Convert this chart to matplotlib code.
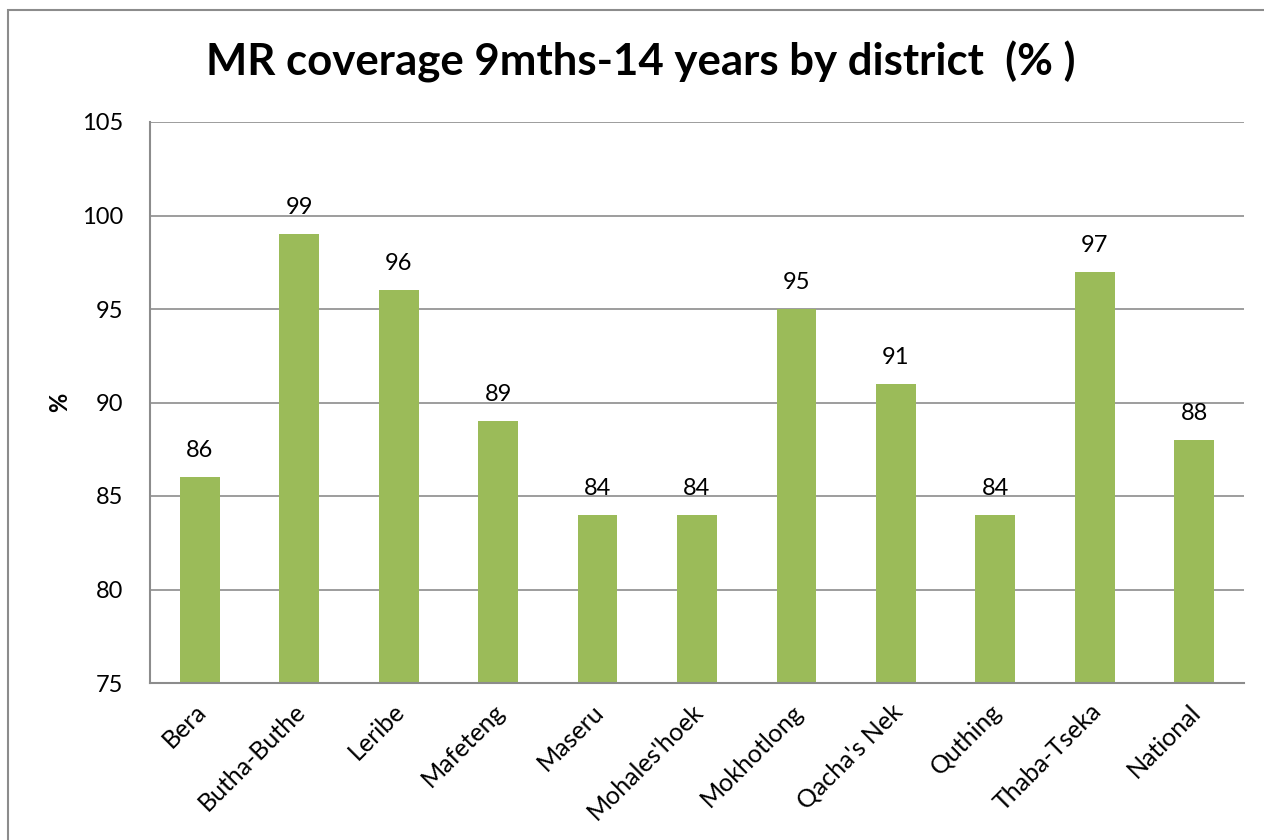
import matplotlib
matplotlib.use("Agg")
import matplotlib.pyplot as plt
from matplotlib.patches import Rectangle
from matplotlib.transforms import ScaledTranslation

districts = ["Bera", "Butha-Buthe", "Leribe", "Mafeteng", "Maseru", "Mohales'hoek",
             "Mokhotlong", "Qacha's Nek", "Quthing", "Thaba-Tseka", "National"]
coverage = [86, 99, 96, 89, 84, 84, 95, 91, 84, 97, 88]
y_ticks = [75, 80, 85, 90, 95, 100, 105]

plt.rcParams['font.family'] = ['Lato', 'DejaVu Sans']

fig = plt.figure(figsize=(12.64, 8.4), dpi=100)
ax = fig.add_axes([150 / 1264, 1 - 683 / 840, 1094 / 1264, 561 / 840])

# outer chart frame
fig.patches.append(Rectangle((8 / 1264, -0.2), 1.5, 1.2 - 10 / 840,
                             transform=fig.transFigure, fill=False,
                             edgecolor="#8c8c8c", linewidth=1.5))

x = range(len(districts))
ax.bar(x, coverage, width=0.4, color="#9BBB59", zorder=2)
for i, v in enumerate(coverage):
    ax.text(i, v + 0.85, str(v), ha="center", va="bottom", fontsize=17)

ax.set_ylim(75, 105)
ax.set_xlim(-0.5, len(districts) - 0.5)
ax.set_yticks(y_ticks)
ax.tick_params(axis="y", labelsize=17, length=0, pad=19)
ax.tick_params(axis="x", labelsize=18, length=0, pad=12)
ax.set_xticks(list(x))
ax.set_xticklabels(districts, rotation=45, ha="right", rotation_mode="anchor")
shift = ScaledTranslation(-4 / 72, 0, fig.dpi_scale_trans)
for lbl in ax.get_xticklabels():
    lbl.set_transform(lbl.get_transform() + shift)
ax.yaxis.grid(True, color="#8c8c8c", linewidth=1.2, zorder=0)
ax.set_axisbelow(True)
for s in ["top", "right"]:
    ax.spines[s].set_visible(False)
for s in ["left", "bottom"]:
    ax.spines[s].set_color("#8c8c8c")
    ax.spines[s].set_linewidth(1.5)

ax.set_ylabel("%", fontsize=17, fontweight="bold", labelpad=8)
fig.text(0.507, 1 - 62 / 840, "MR coverage 9mths-14 years by district  (% )",
         ha="center", va="center", fontsize=31.5, fontweight="bold")

fig.savefig("out.png", dpi=100)
